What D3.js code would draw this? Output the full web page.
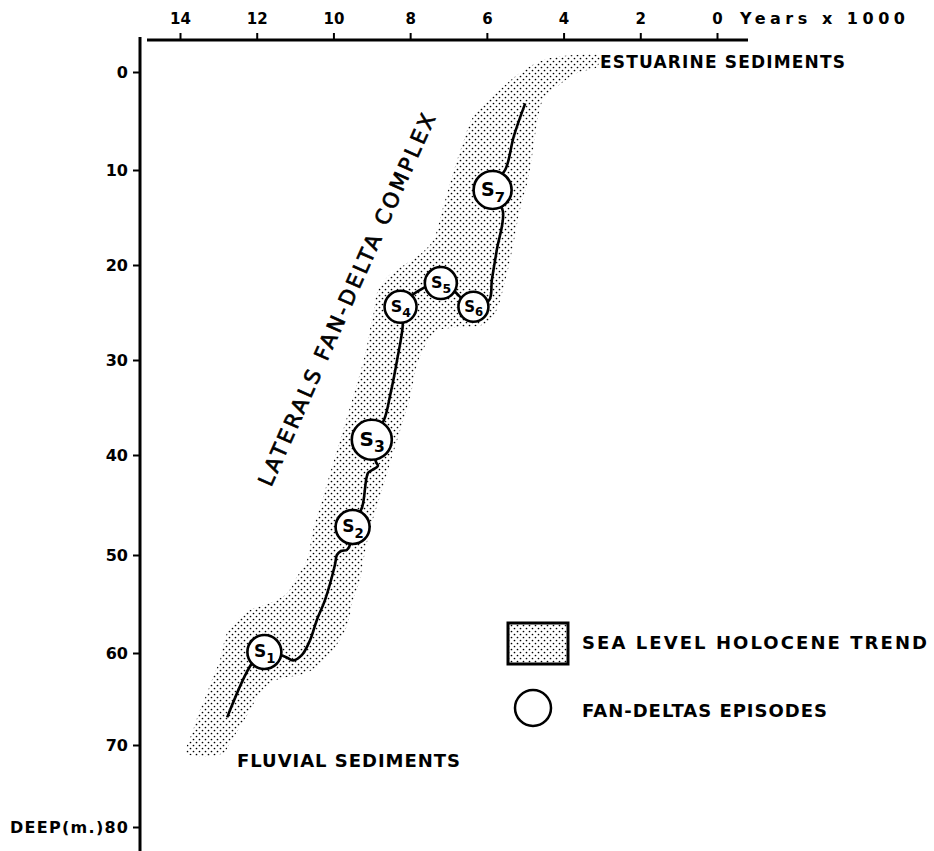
<!DOCTYPE html>
<html><head><meta charset="utf-8">
<script src="https://cdn.jsdelivr.net/npm/d3@7/dist/d3.min.js"></script>
<style>html,body{margin:0;padding:0;background:#fff}</style>
</head><body>
<svg id="c" width="934" height="851"></svg>
<script>
// ---- data (ages in thousands of years BP, depths in metres) ----
const ageTicks = [14, 12, 10, 8, 6, 4, 2, 0];
const depthTicks = [0, 10, 20, 30, 40, 50, 60, 70, 80];

const episodeNames = ["S1", "S2", "S3", "S4", "S5", "S6", "S7"];
const episodeAge   = [11.8, 9.5, 9.0, 8.25, 7.2, 6.35, 5.85];
const episodeDepth = [59.9, 47.2, 38.4, 24.4, 21.9, 24.4, 12.1];

// sea-level curve (drawn from top, young, to bottom, old)
const trendAge   = [5.0, 5.3, 5.5, 5.85, 5.58, 5.74, 5.87, 5.94, 6.35, 7.2, 8.25, 8.19, 8.34, 8.52, 8.68, 9.0,
                    8.89, 8.84, 8.99, 9.1, 9.25, 9.5, 9.57, 9.65, 9.8, 9.91, 9.96, 10.22, 10.43, 10.61, 10.82,
                    11.05, 11.26, 11.8, 12.12, 12.77];
const trendDepth = [3.2, 6.6, 9.8, 12.1, 14.4, 18.4, 21.6, 23.7, 24.4, 21.9, 24.4, 26.1, 30.0, 33.7, 36.3, 38.4,
                    40.7, 41.1, 41.5, 41.8, 45.2, 47.2, 49.0, 49.5, 49.6, 50.0, 51.0, 54.6, 56.6, 58.7, 60.2,
                    60.8, 60.4, 59.9, 61.1, 67.0];

// Holocene trend envelope: younger edge (top -> bottom) and older edge (top -> bottom)
const bandYoungAge   = [3.05, 3.13, 3.65, 4.17, 4.54, 4.69, 4.80, 4.93, 5.14, 5.29, 5.45, 5.58, 5.74, 6.00, 6.36,
                        6.88, 7.30, 7.48, 7.66, 7.82, 8.00, 8.26, 8.52, 8.79, 9.05, 9.23, 9.31, 9.49, 9.65, 10.01,
                        10.43, 10.87, 11.31, 11.65, 11.91, 12.17, 12.43, 12.70, 12.88];
const bandYoungDepth = [-1.5, -0.5, 0.1, 1.5, 2.9, 5.2, 8.0, 11.1, 14.2, 17.4, 20.5, 22.6, 24.7, 26.1, 26.5,
                        26.6, 26.9, 27.6, 28.9, 30.5, 33.9, 37.4, 40.8, 44.2, 47.5, 50.8, 52.6, 54.6, 57.3, 59.7,
                        61.5, 62.4, 62.7, 63.3, 64.3, 66.2, 68.0, 69.8, 71.0];
const bandOldAge   = [3.05, 3.83, 4.54, 5.14, 5.74, 6.36, 6.62, 6.88, 7.14, 7.40, 7.66, 8.08, 8.60, 8.86, 8.97,
                      9.05, 9.12, 9.23, 9.49, 9.75, 10.01, 10.27, 10.53, 10.69, 10.95, 11.21, 11.65, 12.17, 12.51,
                      12.77, 12.88, 12.96, 13.14, 13.30, 13.48, 13.66, 13.82];
const bandOldDepth = [-1.7, -1.7, -1.2, 0.1, 2.1, 4.6, 7.2, 10.3, 13.9, 17.4, 18.6, 19.8, 21.3, 22.9, 25.5,
                      26.8, 28.4, 30.3, 33.9, 37.4, 40.8, 44.2, 47.5, 50.5, 52.2, 53.9, 54.9, 55.6, 56.6,
                      57.9, 59.4, 60.8, 62.6, 64.4, 66.2, 68.4, 71.0];

const legendLabels = ["SEA LEVEL HOLOCENE TREND", "FAN-DELTAS EPISODES"];

// ---- drawing ----
const svg = d3.select("#c");
svg.append("rect").attr("width", 934).attr("height", 851).attr("fill", "#fff");
const FONT = "'DejaVu Sans', sans-serif";

const x = d3.scaleLinear().domain([0, 14]).range([717, 180]);
const y = d3.scaleLinear().domain(depthTicks).range([72, 170, 265, 360, 455, 555, 653, 745, 827]);

const defs = svg.append("defs");
const pat = defs.append("pattern").attr("id", "stip").attr("patternUnits", "userSpaceOnUse")
  .attr("width", 6).attr("height", 6);
pat.append("circle").attr("cx", 1.5).attr("cy", 1.5).attr("r", 0.85).attr("fill", "#000");
pat.append("circle").attr("cx", 4.5).attr("cy", 4.5).attr("r", 0.85).attr("fill", "#000");

// band
const young = bandYoungAge.map((a, i) => [a, bandYoungDepth[i]]);
const old = bandOldAge.map((a, i) => [a, bandOldDepth[i]]);
const ring = young.concat(old.slice().reverse());
svg.append("path")
  .attr("d", d3.line().x(d => x(d[0])).y(d => y(d[1])).curve(d3.curveCatmullRomClosed.alpha(0.5))(ring))
  .attr("fill", "url(#stip)").attr("stroke", "none");

// top axis
const gx = svg.append("g").attr("transform", "translate(0,40)")
  .call(d3.axisTop(x).tickValues(ageTicks).tickSize(7).tickPadding(9).tickFormat(d3.format("d")));
gx.select(".domain").remove();
gx.selectAll("line").attr("stroke", "#000").attr("stroke-width", 2);
gx.selectAll("text").attr("font-family", FONT).attr("font-size", 15).attr("font-weight", "bold").attr("fill", "#000");
svg.append("line").attr("x1", 147).attr("x2", 748).attr("y1", 40).attr("y2", 40)
  .attr("stroke", "#000").attr("stroke-width", 3);
svg.append("text").attr("x", 740).attr("y", 24).attr("font-family", FONT).attr("font-weight", "bold")
  .attr("font-size", 16).attr("textLength", 165).attr("lengthAdjust", "spacing").text("Years  x  1000");

// left axis
const gy = svg.append("g").attr("transform", "translate(140,0)")
  .call(d3.axisLeft(y).tickValues(depthTicks).tickSize(7).tickPadding(5)
    .tickFormat(d => d === 80 ? "DEEP(m.)80" : d));
gy.select(".domain").remove();
gy.selectAll("line").attr("stroke", "#000").attr("stroke-width", 2);
gy.selectAll("text").attr("font-family", FONT).attr("font-size", 16).attr("font-weight", "bold").attr("fill", "#000");
gy.selectAll("text").filter(d => d === 80).attr("textLength", 118).attr("lengthAdjust", "spacing");
svg.append("line").attr("x1", 140).attr("x2", 140).attr("y1", 37).attr("y2", 851)
  .attr("stroke", "#000").attr("stroke-width", 3);

// trend line
const pts = trendAge.map((a, i) => [a, trendDepth[i]]);
svg.append("path")
  .attr("d", d3.line().x(d => x(d[0])).y(d => y(d[1])).curve(d3.curveCatmullRom.alpha(0.5))(pts))
  .attr("fill", "none").attr("stroke", "#000").attr("stroke-width", 2.6);

// episodes
const radius = {S1: 17, S2: 17, S3: 20, S4: 16, S5: 16, S6: 15, S7: 19};
const eps = episodeNames.map((n, i) => ({n, a: episodeAge[i], d: episodeDepth[i]}));
const eg = svg.append("g").selectAll("g").data(eps).join("g")
  .attr("transform", d => `translate(${x(d.a)},${y(d.d)})`);
eg.append("circle").attr("r", d => radius[d.n]).attr("fill", "#fff").attr("stroke", "#000").attr("stroke-width", 2.6);
eg.append("text").attr("x", d => -radius[d.n] * 0.25).attr("y", d => radius[d.n] * 0.32)
  .attr("text-anchor", "middle").attr("font-family", FONT).attr("font-weight", "bold")
  .attr("font-size", d => radius[d.n] * 1.0).text("S");
eg.append("text").attr("x", d => radius[d.n] * 0.38).attr("y", d => radius[d.n] * 0.62)
  .attr("text-anchor", "middle").attr("font-family", FONT).attr("font-weight", "bold")
  .attr("font-size", d => radius[d.n] * 0.78).text(d => d.n.slice(1));

// annotations
svg.append("text").attr("x", 600).attr("y", 68).attr("font-family", FONT).attr("font-weight", "bold")
  .attr("font-size", 17).attr("textLength", 245).attr("lengthAdjust", "spacing").text("ESTUARINE  SEDIMENTS");
svg.append("text").attr("x", 237).attr("y", 767).attr("font-family", FONT).attr("font-weight", "bold")
  .attr("font-size", 18).attr("textLength", 223).attr("lengthAdjust", "spacing").text("FLUVIAL   SEDIMENTS");
svg.append("text").attr("transform", "translate(347,300) rotate(-66)")
  .attr("text-anchor", "middle").attr("dominant-baseline", "central")
  .attr("font-family", FONT).attr("font-size", 21).attr("stroke", "#000").attr("stroke-width", 0.7)
  .attr("textLength", 405).attr("lengthAdjust", "spacing")
  .text("LATERALS   FAN-DELTA   COMPLEX");

// legend
svg.append("rect").attr("x", 508).attr("y", 623).attr("width", 60).attr("height", 41)
  .attr("fill", "url(#stip)").attr("stroke", "#000").attr("stroke-width", 3);
svg.append("circle").attr("cx", 533).attr("cy", 708).attr("r", 18)
  .attr("fill", "#fff").attr("stroke", "#000").attr("stroke-width", 2.5);
svg.append("text").attr("x", 582).attr("y", 649).attr("font-family", FONT).attr("font-weight", "bold")
  .attr("font-size", 18).attr("textLength", 345).attr("lengthAdjust", "spacing").text(legendLabels[0]);
svg.append("text").attr("x", 582).attr("y", 717).attr("font-family", FONT).attr("font-weight", "bold")
  .attr("font-size", 18).attr("textLength", 245).attr("lengthAdjust", "spacing").text(legendLabels[1]);
</script>
</body></html>
